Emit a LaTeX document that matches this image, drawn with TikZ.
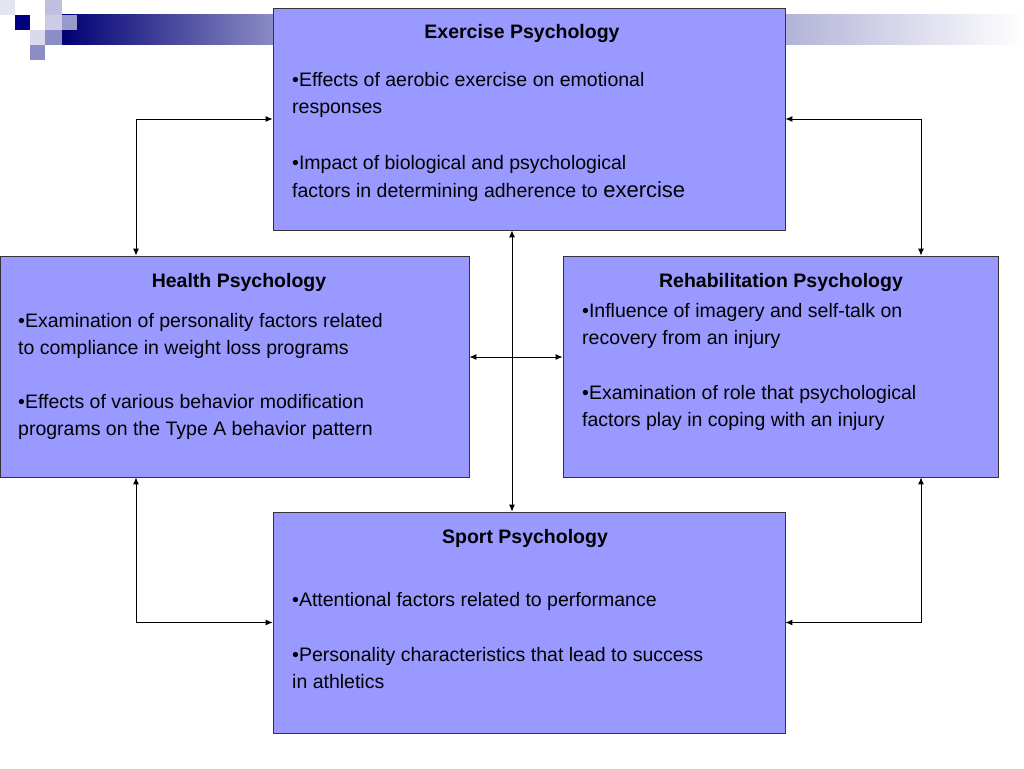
\documentclass[tikz,border=0pt]{standalone}
\usepackage{fontspec}
\setmainfont{Liberation Sans}
\usetikzlibrary{arrows.meta,calc}
\definecolor{boxfill}{HTML}{9999FF}
\definecolor{navy}{HTML}{000080}
\begin{document}
\begin{tikzpicture}[x=1pt,y=-1pt,
  box/.style={draw=black!80,line width=0.8pt,fill=boxfill,minimum width=#1,inner sep=0pt},
  ttl/.style={font=\fontsize{19.5}{24}\selectfont\bfseries,anchor=base},
  txt/.style={font=\fontsize{19.5}{24}\selectfont,anchor=base west,inner sep=0pt},
  conn/.style={line width=0.9pt,{Latex[length=7pt,width=6pt]}-{Latex[length=7pt,width=6pt]}}]
\useasboundingbox (0,0) rectangle (1024,768);
% header decoration
\shade[left color=navy!90!black,right color=navy!45!white] (62,15) rectangle (275,45);
\shade[left color=navy!30!white,right color=white] (785,15) rectangle (1024,45);
\fill[navy] (15,15) rectangle (30,30);
\fill[navy!25] (45,0) rectangle (62,15);
\fill[navy!20] (45,15) rectangle (62,30);
\fill[navy!40] (62,15) rectangle (77,30);
\fill[navy!15] (30,30) rectangle (45,45);
\fill[navy!45] (45,30) rectangle (62,45);
\fill[navy!45] (30,45) rectangle (45,60);
\fill[navy!10] (0,0) rectangle (15,15);
% boxes
\node[box=512pt,minimum height=222pt] (ex) at (529,119) {};
\node[box=469pt,minimum height=221pt] (he) at (234.5,366.5) {};
\node[box=435pt,minimum height=221pt] (re) at (780.5,366.5) {};
\node[box=512pt,minimum height=221pt] (sp) at (529,622.5) {};
% texts
\node[ttl] (ext) at (522,38) {Exercise Psychology};
\node[txt] (ex1) at (292,86) {•Effects of aerobic exercise on emotional};
\node[txt] (ex2) at (292,113) {responses};
\node[txt] (ex3) at (292,169) {•Impact of biological and psychological};
\node[txt] (ex4) at (292,197) {factors in determining adherence to {\fontsize{22}{24}\selectfont exercise}};
\node[ttl] (het) at (239,287) {Health Psychology};
\node[txt] (he1) at (18,327) {•Examination of personality factors related};
\node[txt] (he2) at (18,354) {to compliance in weight loss programs};
\node[txt] (he3) at (18,408) {•Effects of various behavior modification};
\node[txt] (he4) at (18,435) {programs on the Type A behavior pattern};
\node[ttl] (ret) at (781,287) {Rehabilitation Psychology};
\node[txt] (re1) at (582,317) {•Influence of imagery and self-talk on};
\node[txt] (re2) at (582,344) {recovery from an injury};
\node[txt] (re3) at (582,399) {•Examination of role that psychological};
\node[txt] (re4) at (582,426) {factors play in coping with an injury};
\node[ttl] (spt) at (525,543) {Sport Psychology};
\node[txt] (sp1) at (292,606) {•Attentional factors related to performance};
\node[txt] (sp2) at (292,661) {•Personality characteristics that lead to success};
\node[txt] (sp3) at (292,688) {in athletics};
% connectors
\draw[conn] (he.north -| 136,0) |- (ex.west);
\draw[conn] (ex.east) -| (re.north -| 921,0);
\draw[conn] (he.south -| 136,0) |- (sp.west);
\draw[conn] (sp.east) -| (re.south -| 921,0);
\draw[conn] (ex.south -| 512,0) -- (sp.north -| 512,0);
\draw[conn] (he.east |- 0,357) -- (re.west |- 0,357);
\end{tikzpicture}
\end{document}
